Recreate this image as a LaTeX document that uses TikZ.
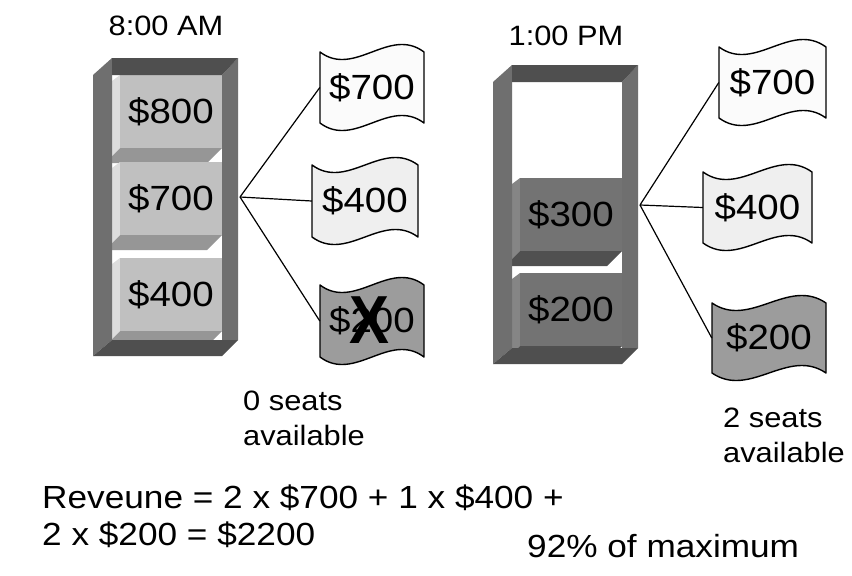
\documentclass[tikz,border=0pt]{standalone}
\usepackage{fontspec}
\setmainfont{Liberation Sans}[FakeStretch=1.1]
\definecolor{framedark}{HTML}{4F4F4F}
\definecolor{frameside}{HTML}{6F6F6F}
\definecolor{lightface}{HTML}{C0C0C0}
\definecolor{lightleft}{HTML}{DDDDDD}
\definecolor{lightbottom}{HTML}{969696}
\definecolor{darkface}{HTML}{737373}
\definecolor{darkleft}{HTML}{858585}
\definecolor{darkbottom}{HTML}{505050}
\definecolor{ticketA}{HTML}{FBFBFB}
\definecolor{ticketB}{HTML}{EFEFEF}
\definecolor{ticketC}{HTML}{9C9C9C}
\newcommand\bigtxt{\fontsize{35}{40}\selectfont}
\newcommand\labtxt{\fontsize{28}{35}\selectfont}
\newcommand\revtxt{\fontsize{32}{37}\selectfont}
% rack: back-left x, top y, right x, bottom y
\newcommand\drawrack[4]{%
  \fill[frameside] ({#1-19},{#2+17}) -- (#1,#2) -- (#1,#4) -- ({#1-19},{#4+16}) -- cycle;
  \fill[frameside] ({#3-16},{#2+17}) -- (#3,#2) -- (#3,#4) -- ({#3-16},#4) -- cycle;
  \fill[framedark] (#1,#2) -- (#3,#2) -- ({#3-16},{#2+17}) -- (#1,{#2+17}) -- cycle;
  \fill[framedark] (#1,#4) -- (#3,#4) -- ({#3-16},{#4+16}) -- ({#1-19},{#4+16}) -- cycle;
}
% block: name, x, top y, face, left, bottom, text
\newcommand\drawblock[7]{%
  \fill[#6] (#2,{#3+73}) -- ({#2+110},{#3+73}) -- ({#2+95},{#3+88}) -- (#2,{#3+88}) -- cycle;
  \fill[#5] (#2,{#3+6}) -- ({#2+8},#3) -- ({#2+8},{#3+73}) -- (#2,{#3+81}) -- cycle;
  \node[blockface, fill=#4] (#1) at ({#2+59},{#3+36.5}) {#7};
}
% ticket: name, x, top y, width, height, fill, text
\newcommand\drawticket[7]{%
  \filldraw[ticketline, fill=#6] (#2,#3) .. controls ({#2+#4/3},{#3+26}) and ({#2+2*#4/3},{#3-26}) .. ({#2+#4},#3)
     -- ({#2+#4},{#3+#5}) .. controls ({#2+2*#4/3},{#3+#5-26}) and ({#2+#4/3},{#3+#5+26}) .. (#2,{#3+#5}) -- cycle;
  \node[ticketnode, minimum width=#4pt, minimum height=#5pt] (#1) at ({#2+#4/2},{#3+#5/2}) {#7};
}
\begin{document}
\begin{tikzpicture}[x=1pt,y=-1pt,
  blockface/.style={minimum width=102pt, minimum height=73pt, inner sep=0pt, font=\bigtxt},
  ticketnode/.style={inner sep=0pt, font=\bigtxt},
  ticketline/.style={draw=black, line width=1.4pt, line join=round},
  fan/.style={draw=black, line width=1.2pt},
  lab/.style={inner sep=0pt, font=\labtxt, align=left},
  rev/.style={inner sep=0pt, font=\revtxt, align=left}]
\useasboundingbox (0,0) rectangle (852,576);
\fill[white] (0,0) rectangle (852,576);

% ---- left rack (8:00 AM)
\drawblock{b800}{112}{75}{lightface}{lightleft}{lightbottom}{\$800}
\drawblock{b700}{112}{162}{lightface}{lightleft}{lightbottom}{\$700}
\drawblock{b400}{112}{258}{lightface}{lightleft}{lightbottom}{\$400}
\drawrack{112}{58}{238}{340}
\node[lab, anchor=base] (am) at (166,35) {8:00 AM};

\drawticket{lt1}{320}{52}{104}{71}{ticketA}{\$700}
\drawticket{lt2}{312}{165}{106}{72}{ticketB}{\$400}
\drawticket{lt3}{320}{285}{104}{72}{ticketC}{\$200}
\node[inner sep=0pt, font=\fontsize{68}{70}\selectfont\bfseries] (cross) at (369,320) {\scalebox{0.8}[1]{X}};

\coordinate (lfan) at (240,197);
\draw[fan] (lfan) -- (lt1.west);
\draw[fan] (lfan) -- (lt2.west);
\draw[fan] (lfan) -- (lt3.west);

\node[lab, anchor=base west] (lseats) at (243,410) {0 seats};
\node[lab, anchor=base west] (lavail) at (243,445) {available};

% ---- right rack (1:00 PM)
\drawblock{b300}{512}{178}{darkface}{darkleft}{darkbottom}{\$300}
\drawblock{b200}{512}{273}{darkface}{darkleft}{darkbottom}{\$200}
\drawrack{512}{65}{638}{348}
\node[lab, anchor=base] (pm) at (566,45) {1:00 PM};

\drawticket{rt1}{719}{47}{107}{71}{ticketA}{\$700}
\drawticket{rt2}{703}{172}{109}{71}{ticketB}{\$400}
\drawticket{rt3}{712}{303}{114}{70}{ticketC}{\$200}

\coordinate (rfan) at (640,205);
\draw[fan] (rfan) -- (rt1.west);
\draw[fan] (rfan) -- (rt2.west);
\draw[fan] (rfan) -- (rt3.west);

\node[lab, anchor=base west] (rseats) at (723,427) {2 seats};
\node[lab, anchor=base west] (ravail) at (723,462) {available};

% ---- revenue
\node[rev, anchor=base west] (rev1) at (42,508) {Reveune = 2 x \$700 + 1 x \$400 +};
\node[rev, anchor=base west] (rev2) at (42,545) {2 x \$200 = \$2200};
\node[rev, anchor=base west] (pct) at (527,557) {92\% of maximum};
\end{tikzpicture}
\end{document}
